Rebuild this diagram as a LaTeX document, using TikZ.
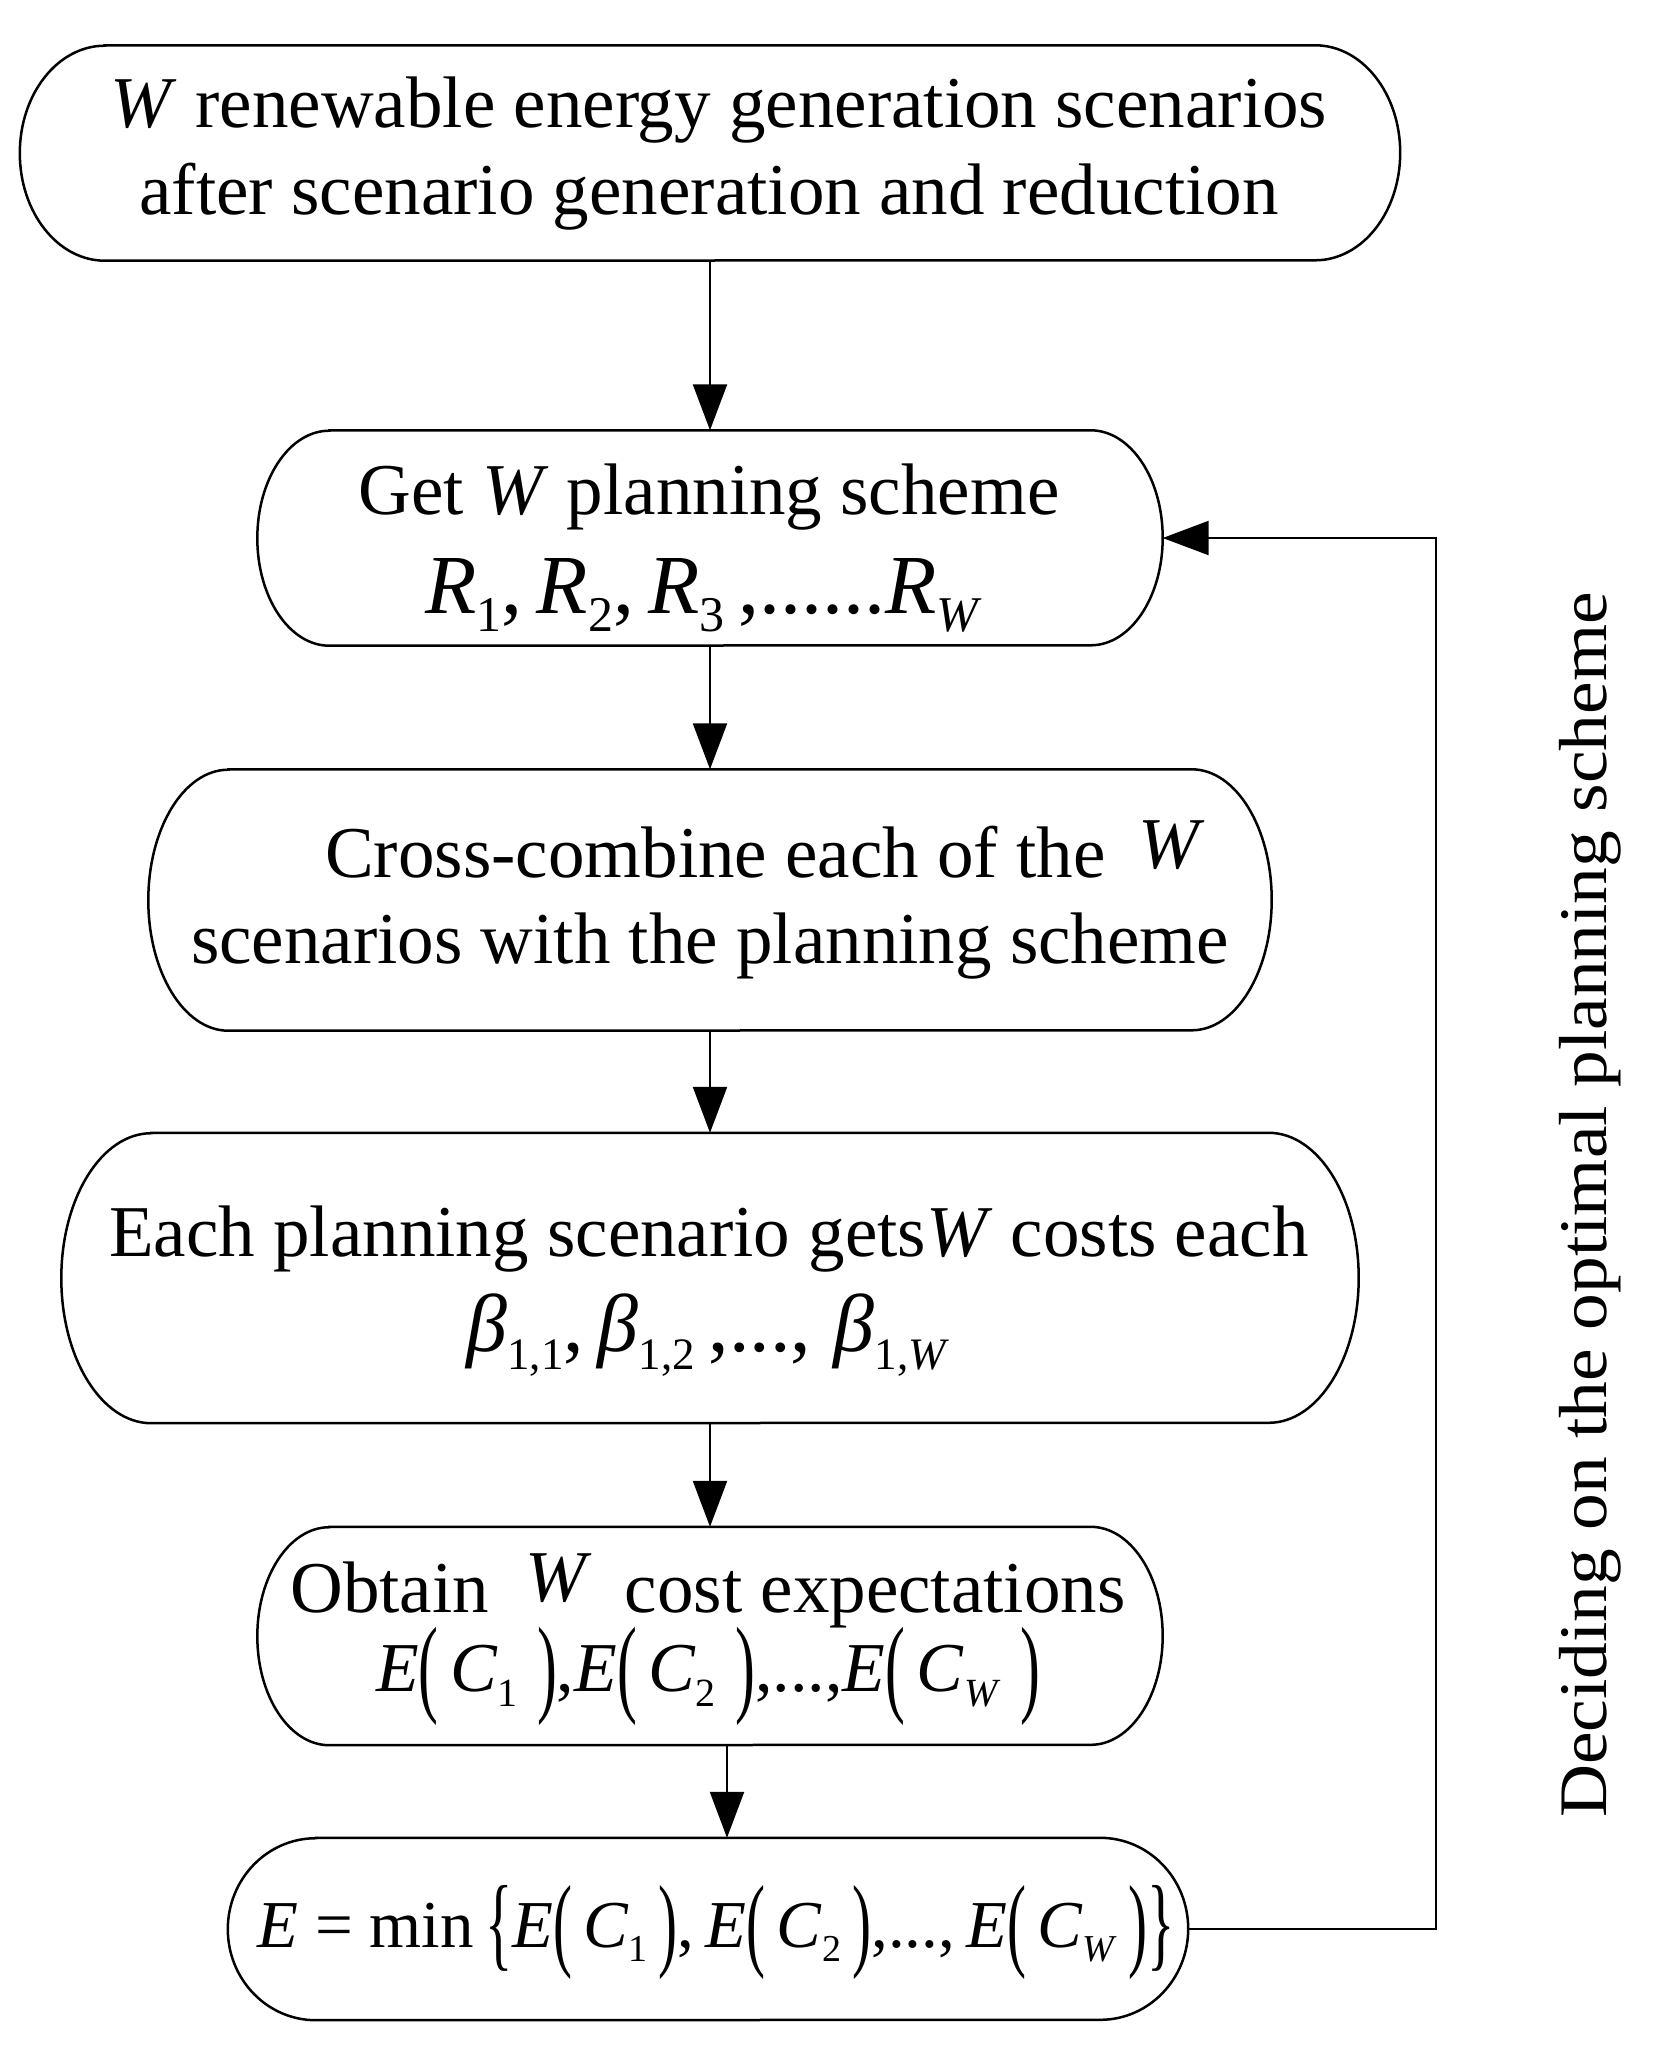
\documentclass[tikz,border=0pt]{standalone}
\usepackage{fontspec}
\usepackage{graphicx}
\setmainfont{Liberation Serif}
\usetikzlibrary{arrows.meta,calc}

\newcommand\vW{\textit{W}}
\newcommand\fsz[1]{\fontsize{#1}{#1}\selectfont}
\newcommand\lo[2]{\raisebox{-0.22em}{\fsz{#1}#2}}
\newcommand\tpar[1]{\raisebox{-0.16em}{\scalebox{0.85}[1.55]{#1}}}
\newcommand\capsule[3]{%
  \draw[boxline] ($(#1.north west)+(#2pt,0pt)$) -- ($(#1.north east)+(-#2pt,0pt)$)
    arc[start angle=90,end angle=-90,x radius=#2pt,y radius=#3pt]
    -- ($(#1.south west)+(#2pt,0pt)$)
    arc[start angle=270,end angle=90,x radius=#2pt,y radius=#3pt] -- cycle;}

\tikzset{
  box/.style={shape=rectangle,draw=none,inner sep=0pt},
  boxline/.style={line width=2.5pt,black},
  txt/.style={inner sep=0pt,anchor=base,font=\fsz{73}},
  arr/.style={line width=2.3pt,-{Triangle[length=46pt,width=34pt]}}
}

\begin{document}
\begin{tikzpicture}[x=1pt,y=1pt]
\useasboundingbox (0,0) rectangle (1672,-2047);
\fill[white] (0,0) rectangle (1672,-2047);

% boxes
\node[box,minimum width=1380pt,minimum height=215pt] (b1) at (710,-153) {};
\node[box,minimum width=905pt,minimum height=215pt] (b2) at (710,-538) {};
\node[box,minimum width=1123pt,minimum height=261pt] (b3) at (710,-900) {};
\node[box,minimum width=1297pt,minimum height=290pt] (b4) at (710,-1278) {};
\node[box,minimum width=905pt,minimum height=218pt] (b5) at (710,-1636) {};
\node[box,minimum width=960pt,minimum height=182pt] (b6) at (708,-1929) {};

\capsule{b1}{85}{107.5}
\capsule{b2}{72}{107.5}
\capsule{b3}{80}{130.5}
\capsule{b4}{90}{145}
\capsule{b5}{72}{109}
\capsule{b6}{88}{91}

% texts
\node[txt] (t1a) at (719,-128) {\vW\ renewable energy generation scenarios};
\node[txt] (t1b) at (709,-214) {after scenario generation and reduction};

\node[txt] (t2a) at (709,-514) {Get \vW\ planning scheme};
\node[txt,font=\fsz{84}] (t2b) at (704,-613) {\textit{R}\lo{50}{1},\,\textit{R}\lo{50}{2},\,\textit{R}\lo{50}{3}\,,......\textit{R}\lo{50}{\textit{W}}};

\node[txt] (t3a) at (765,-877) {Cross-combine each of the\hspace{0.45em}\raisebox{0.12em}{\vW}};
\node[txt] (t3b) at (710,-963) {scenarios with the planning scheme};

\node[txt] (t4a) at (709,-1256) {Each planning scenario gets\vW\ costs each};
\node[txt,font=\fsz{82}] (t4b) at (708,-1351) {\textit{β}\lo{45}{1,1},\,\textit{β}\lo{45}{1,2}\,,...,\;\textit{β}\lo{45}{1,\textit{W}}};

\node[txt] (t5a) at (708,-1612) {Obtain\hspace{0.5em}\raisebox{0.14em}{\vW}\hspace{0.45em}cost expectations};
\node[txt,font=\fsz{70}] (t5b) at (708,-1691) {\textit{E}\tpar{(}\,\textit{C}\lo{40}{1}\;\tpar{)},\textit{E}\tpar{(}\,\textit{C}\lo{40}{2}\;\tpar{)},...,\textit{E}\tpar{(}\,\textit{C}\lo{40}{\textit{W}}\;\tpar{)}};

\node[txt,font=\fsz{67}] (t6) at (716,-1947) {\textit{E} = min\,\tpar{\{}\textit{E}\tpar{(}\,\textit{C}\lo{38}{1}\,\tpar{)},\,\textit{E}\tpar{(}\,\textit{C}\lo{38}{2}\,\tpar{)},...,\,\textit{E}\tpar{(}\,\textit{C}\lo{38}{\textit{W}}\,\tpar{)}\tpar{\}}};

% side label
\node[rotate=90,inner sep=0pt,font=\fsz{68}] (lbl) at (1590,-1205) {\scalebox{1.08}[1]{Deciding on the optimal planning scheme}};

% connectors
\coordinate (k) at (727,0);
\coordinate (fb) at (1436,0);
\draw[arr] (b1.south) -- (b2.north);
\draw[arr] (b2.south) -- (b3.north);
\draw[arr] (b3.south) -- (b4.north);
\draw[arr] (b4.south) -- (b5.north);
\draw[arr] (b5.south -| k) -- (b6.north -| k);
\draw[arr] (b6.east) -- (b6.east -| fb) -- (b2.east -| fb) -- (b2.east);
\end{tikzpicture}
\end{document}
